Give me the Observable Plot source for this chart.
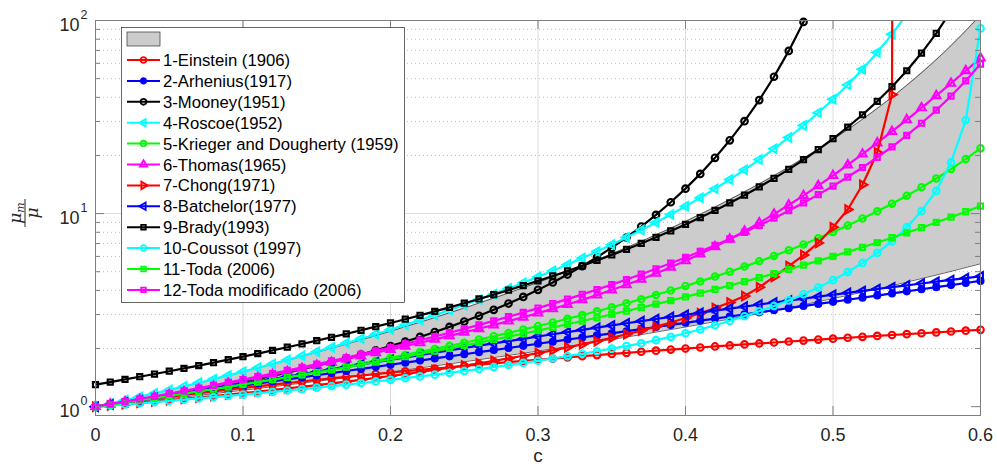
<!DOCTYPE html>
<html><head><meta charset="utf-8">
<script src="https://cdn.jsdelivr.net/npm/d3@7"></script>
<script src="https://cdn.jsdelivr.net/npm/@observablehq/plot@0.6"></script>
<style>
body{margin:0;background:#fff}
svg{display:block}
</style>
</head><body><div id="chart"></div>
<script>
// ---------------- data ----------------
const cGrid = [0,0.01,0.02,0.03,0.04,0.05,0.06,0.07,0.08,0.09,0.1,0.11,0.12,0.13,0.14,0.15,0.16,0.17,0.18,0.19,0.2,0.21,0.22,0.23,0.24,0.25,0.26,0.27,0.28,0.29,0.3,0.31,0.32,0.33,0.34,0.35,0.36,0.37,0.38,0.39,0.4,0.41,0.42,0.43,0.44,0.45,0.46,0.47,0.48,0.49,0.5,0.51,0.52,0.53,0.54,0.55,0.56,0.57,0.58,0.59,0.6];

const einstein = [1,1.025,1.05,1.075,1.1,1.125,1.15,1.175,1.2,1.225,1.25,1.275,1.3,1.325,1.35,1.375,1.4,1.425,1.45,1.475,1.5,1.525,1.55,1.575,1.6,1.625,1.65,1.675,1.7,1.725,1.75,1.775,1.8,1.825,1.85,1.875,1.9,1.925,1.95,1.975,2,2.025,2.05,2.075,2.1,2.125,2.15,2.175,2.2,2.225,2.25,2.275,2.3,2.325,2.35,2.375,2.4,2.425,2.45,2.475,2.5];
const arrhenius = [1,1.0253,1.0513,1.0779,1.1052,1.1331,1.1618,1.1912,1.2214,1.2523,1.284,1.3165,1.3499,1.384,1.4191,1.455,1.4918,1.5296,1.5683,1.608,1.6487,1.6905,1.7333,1.7771,1.8221,1.8682,1.9155,1.964,2.0138,2.0647,2.117,2.1706,2.2255,2.2819,2.3396,2.3989,2.4596,2.5219,2.5857,2.6512,2.7183,2.7871,2.8577,2.93,3.0042,3.0802,3.1582,3.2382,3.3201,3.4042,3.4903,3.5787,3.6693,3.7622,3.8574,3.9551,4.0552,4.1579,4.2631,4.371,4.4817];
const mooney = [1,1.0257,1.0529,1.0818,1.1124,1.145,1.1797,1.2167,1.2562,1.2984,1.3437,1.3924,1.4447,1.5012,1.5622,1.6282,1.7,1.778,1.8633,1.9566,2.059,2.1718,2.2965,2.4348,2.5888,2.7611,2.9545,3.1727,3.4203,3.7026,4.0264,4.4002,4.8345,5.343,5.9434,6.6584,7.5178,8.5623,9.8458,11.444,13.464,16.054,19.441,23.954,30.11,38.715,51.121,69.609,98.327,144.9];
const roscoe = [1,1.0395,1.0813,1.1254,1.1721,1.2215,1.274,1.3296,1.3887,1.4515,1.5184,1.5896,1.6657,1.7469,1.8338,1.9269,2.0267,2.1339,2.2493,2.3735,2.5075,2.6524,2.8094,2.9796,3.1646,3.3661,3.5861,3.8267,4.0905,4.3806,4.7002,5.0535,5.445,5.8804,6.3662,6.91,7.5212,8.211,8.9924,9.8823,10.9,12.071,13.427,15.005,16.855,19.041,21.646,24.782,28.588,33.263,39.09,46.45,55.902,68.283,84.877,107.73];
const kriegerDougherty = [1,1.0255,1.052,1.0796,1.1083,1.1382,1.1693,1.2018,1.2357,1.2711,1.3081,1.3468,1.3873,1.4296,1.474,1.5206,1.5694,1.6207,1.6747,1.7314,1.7912,1.8542,1.9207,1.991,2.0653,2.1439,2.2273,2.3158,2.4098,2.5098,2.6163,2.73,2.8515,2.9815,3.1208,3.2705,3.4315,3.605,3.7925,3.9954,4.2156,4.4549,4.7158,5.001,5.3137,5.6577,6.0371,6.4572,6.9243,7.4453,8.0293,8.687,9.4318,10.28,11.251,12.371,13.672,15.197,17.0,19.156,21.763];
const thomas = [1.0027,1.0292,1.0578,1.0885,1.1214,1.1564,1.1936,1.233,1.2746,1.3186,1.3649,1.4136,1.4647,1.5185,1.5749,1.6341,1.6962,1.7613,1.8298,1.9018,1.9775,2.0574,2.1417,2.2309,2.3256,2.4263,2.5338,2.649,2.7729,2.9066,3.0516,3.2097,3.3826,3.5729,3.7833,4.0169,4.2777,4.5703,4.8999,5.2729,5.6967,6.1803,6.734,7.3701,8.1032,8.9503,9.9318,11.072,12.398,13.943,15.748,17.858,20.328,23.223,26.62,30.608,35.294,40.804,47.285,54.914,63.896];
const chong = [1,1.0149,1.0303,1.0463,1.0628,1.0799,1.0977,1.1161,1.1353,1.1552,1.1759,1.1974,1.2199,1.2433,1.2678,1.2933,1.3201,1.3482,1.3776,1.4085,1.4411,1.4753,1.5115,1.5497,1.5901,1.633,1.6786,1.7271,1.779,1.8345,1.894,1.9581,2.0273,2.1022,2.1837,2.2726,2.3701,2.4775,2.5966,2.7293,2.8784,3.0471,3.2399,3.4625,3.74,4.15,4.7,5.35,6.1,7.05,8.5,10.5,14.1,20.7,41.3,1e30];
const batchelor = [1,1.0256,1.0525,1.0806,1.1099,1.1405,1.1723,1.2054,1.2397,1.2752,1.312,1.35,1.3893,1.4298,1.4715,1.5145,1.5587,1.6042,1.6509,1.6988,1.748,1.7984,1.8501,1.903,1.9571,2.0125,2.0691,2.127,2.1861,2.2464,2.308,2.3708,2.4349,2.5002,2.5667,2.6345,2.7035,2.7738,2.8453,2.918,2.992,3.0672,3.1437,3.2214,3.3003,3.3805,3.4619,3.5446,3.6285,3.7136,3.8,3.8876,3.9765,4.0666,4.1579,4.2505,4.3443,4.4394,4.5357,4.6332,4.732];
const brady = [1.3,1.3409,1.3838,1.4289,1.4761,1.5257,1.5779,1.6327,1.6905,1.7514,1.8157,1.8836,1.9553,2.0313,2.1117,2.197,2.2876,2.3839,2.4864,2.5957,2.7124,2.837,2.9705,3.1137,3.2674,3.4328,3.6111,3.8037,4.0121,4.238,4.4837,4.7513,5.0436,5.3638,5.7154,6.1028,6.5309,7.0057,7.5341,8.125,8.788,9.5355,10.383,11.348,12.455,13.731,15.215,16.952,19.005,21.455,24.412,28.023,32.5,38.142,45.393,54.925,67.809,85.82,112.09];
const coussot = [1,1.0134,1.0271,1.0414,1.056,1.0712,1.0868,1.103,1.1197,1.137,1.1549,1.1735,1.1928,1.2128,1.2336,1.2552,1.2777,1.3011,1.3255,1.351,1.3776,1.4054,1.4345,1.4651,1.4971,1.5308,1.5663,1.6037,1.6431,1.6849,1.7291,1.776,1.8259,1.8791,1.936,1.997,2.06,2.13,2.21,2.3,2.4,2.51,2.64,2.78,2.94,3.12,3.32,3.55,3.82,4.14,4.52,4.98,5.55,6.26,7.2,8.5,10.3,13.1,18.4,30.5,91];
const toda = [1,1.0255,1.0519,1.0793,1.1077,1.1372,1.1679,1.1997,1.2328,1.2673,1.3032,1.3405,1.3794,1.4199,1.4621,1.5062,1.5522,1.6003,1.6504,1.7029,1.7578,1.8153,1.8755,1.9385,2.0047,2.0741,2.147,2.2236,2.3041,2.3889,2.4781,2.5722,2.6715,2.7763,2.887,3.0041,3.1281,3.2594,3.3987,3.5466,3.7037,3.8709,4.049,4.2388,4.4415,4.6582,4.8899,5.1385,5.4051,5.6916,6.0,6.3324,6.6913,7.0794,7.4998,7.9561,8.4523,8.9929,9.5832,10.229,10.938];
const todaModificado = [1,1.0307,1.0628,1.0964,1.1315,1.1684,1.2071,1.2476,1.2903,1.3351,1.3823,1.4319,1.4842,1.5395,1.5978,1.6594,1.7246,1.7936,1.8668,1.9445,2.027,2.1149,2.2085,2.3083,2.415,2.529,2.6513,2.7824,2.9233,3.0751,3.2387,3.4156,3.6072,3.8149,4.0409,4.2871,4.5562,4.851,5.1749,5.5315,5.9258,6.363,6.8497,7.3933,8.003,8.6903,9.468,10.354,11.366,12.532,13.885,15.464,17.324,19.533,22.185,25.404,29.366,34.309,40.59,48.72,59.52];

// gray band (range of models)
const bandC = [0,0.025,0.05,0.075,0.1,0.125,0.15,0.175,0.2,0.225,0.25,0.275,0.3,0.325,0.35,0.375,0.4,0.425,0.45,0.475,0.5,0.525,0.55,0.575,0.6];
const bandLow = [1,1.0482,1.1001,1.156,1.2165,1.2819,1.3529,1.4302,1.5144,1.6066,1.7076,1.8187,1.9414,2.0773,2.2284,2.397,2.5861,2.7991,3.0404,3.3152,3.6301,3.9935,4.4161,4.9115,5.4975];
const bandHigh = [1,1.1033,1.2215,1.3574,1.5144,1.6968,1.91,2.1609,2.4582,2.8133,3.2408,3.7608,4.3993,5.1921,6.1905,7.4642,9.1176,11.304,14.258,18.349,24.191,32.836,46.201,68.053,106.42];

const xMajor = [0,0.1,0.2,0.3,0.4,0.5,0.6];
const yMajor = [1,10,100];
const yExponent = ["0","1","2"];
const yMinor = [2,3,4,5,6,7,8,9,20,30,40,50,60,70,80,90];

// ---------------- symbols ----------------
function tri(angle){
  const a = angle*Math.PI/180;
  return {draw(ctx,size){
    const s = Math.sqrt(4*size/Math.sqrt(3)), h = s*Math.sqrt(3)/2;
    const p = [[0,-2*h/3],[s/2,h/3],[-s/2,h/3]].map(([x,y])=>[x*Math.cos(a)-y*Math.sin(a), x*Math.sin(a)+y*Math.cos(a)]);
    ctx.moveTo(p[0][0],p[0][1]); ctx.lineTo(p[1][0],p[1][1]); ctx.lineTo(p[2][0],p[2][1]); ctx.closePath();
  }};
}
const symCircle = d3.symbolCircle, symSquare = d3.symbolSquare;

const seriesList = [
  {label:"1-Einstein (1906)", values:einstein, color:"#ff0000", symbol:symCircle, r:3.3, fill:"none"},
  {label:"2-Arhenius(1917)", values:arrhenius, color:"#0000ff", symbol:symCircle, r:3.0, fill:"#0000ff"},
  {label:"3-Mooney(1951)", values:mooney, color:"#000000", symbol:symCircle, r:3.3, fill:"none"},
  {label:"4-Roscoe(1952)", values:roscoe, color:"#00ffff", symbol:tri(-90), r:3.1, fill:"none"},
  {label:"5-Krieger and Dougherty (1959)", values:kriegerDougherty, color:"#00ff00", symbol:symCircle, r:3.2, fill:"none"},
  {label:"6-Thomas(1965)", values:thomas, color:"#ff00ff", symbol:tri(0), r:3.1, fill:"none"},
  {label:"7-Chong(1971)", values:chong, color:"#ff0000", symbol:tri(90), r:3.1, fill:"none"},
  {label:"8-Batchelor(1977)", values:batchelor, color:"#0000ff", symbol:tri(-90), r:3.1, fill:"none"},
  {label:"9-Brady(1993)", values:brady, color:"#000000", symbol:symSquare, r:2.9, fill:"none"},
  {label:"10-Coussot (1997)", values:coussot, color:"#00ffff", symbol:symCircle, r:3.3, fill:"none"},
  {label:"11-Toda (2006)", values:toda, color:"#00ff00", symbol:symSquare, r:2.9, fill:"none"},
  {label:"12-Toda modificado (2006)", values:todaModificado, color:"#ff00ff", symbol:symSquare, r:2.9, fill:"none"}
];

// ---------------- layout ----------------
const W = 997, H = 470, mL = 95, mR = 17, mT = 20, mB = 55;
const plotW = W - mL - mR, plotH = H - mT - mB;
const axisColor = "#7f7f7f";

const bandRows = bandC.map((c,i)=>({c, lo:bandLow[i], hi:bandHigh[i]}));

const seriesMarks = seriesList.flatMap(s => {
  const rows = s.values.map((v,i)=>({c:cGrid[i], v}));
  return [
    Plot.line(rows, {x:"c", y:"v", stroke:s.color, strokeWidth:2.2, clip:true}),
    Plot.dot(rows.filter(d=>d.v>=0.9 && d.v<=100), {x:"c", y:"v", symbol:s.symbol, r:s.r, stroke:s.color, fill:s.fill, strokeWidth:2.1})
  ];
});

const chart = Plot.plot({
  width: W, height: H,
  marginLeft: mL, marginRight: mR, marginTop: mT, marginBottom: mB,
  style: {fontFamily: "'Liberation Sans', Arial, Helvetica, sans-serif", color: "#262626", background: "#fff", overflow: "visible"},
  x: {domain: [0, 0.6], label: null},
  y: {type: "log", domain: [0.9, 100], label: null, axis: null},
  marks: [
    Plot.gridX(xMajor.slice(1,-1), {stroke:"#dcdcdc", strokeOpacity:1}),
    Plot.gridY(yMinor, {stroke:"#bdbdbd", strokeOpacity:1, strokeDasharray:"1,3"}),
    Plot.gridY([10], {stroke:"#dcdcdc", strokeOpacity:1}),
    Plot.areaY(bandRows, {x:"c", y1:"lo", y2:"hi", fill:"#cccccc", curve:"monotone-x", clip:true}),
    Plot.line(bandRows, {x:"c", y:"lo", stroke:"#222", strokeWidth:0.7, curve:"monotone-x", clip:true}),
    Plot.line(bandRows, {x:"c", y:"hi", stroke:"#222", strokeWidth:0.7, curve:"monotone-x", clip:true}),
    ...seriesMarks,
    // ticks (inward)
    Plot.tickY(yMajor, {y:d=>d, insetRight: plotW-9, stroke:axisColor}),
    Plot.tickY(yMajor, {y:d=>d, insetLeft: plotW-9, stroke:axisColor}),
    Plot.tickY(yMinor, {y:d=>d, insetRight: plotW-5, stroke:axisColor}),
    Plot.tickY(yMinor, {y:d=>d, insetLeft: plotW-5, stroke:axisColor}),
    Plot.tickX(xMajor, {x:d=>d, insetTop: plotH-9, stroke:axisColor}),
    Plot.tickX(xMajor, {x:d=>d, insetBottom: plotH-9, stroke:axisColor}),
    Plot.frame({stroke: axisColor}),
    Plot.axisX(xMajor, {tickSize:0, tickPadding:13, fontSize:18, tickFormat:d=> d===0 ? "0" : String(d), label:null}),
    Plot.text(yMajor, {y:d=>d, text:()=> "10", frameAnchor:"left", textAnchor:"end", dx:-16, dy:5, fontSize:18, fill:"#262626"}),
    Plot.text(yMajor, {y:d=>d, text:(d,i)=> yExponent[i], frameAnchor:"left", textAnchor:"start", dx:-15, dy:-6, fontSize:12.5, fill:"#262626"}),
    Plot.text(["c"], {frameAnchor:"bottom", text:d=>d, dy:46, fontSize:19, fill:"#262626"})
  ]
});
document.getElementById("chart").appendChild(chart);

// ---------------- y label (fraction) ----------------
const svg = d3.select(chart);
const yl = svg.append("g").attr("transform","translate(25,213) rotate(-90)")
  .attr("font-family","'DejaVu Serif','Liberation Serif',serif").attr("fill","#262626");
const num = yl.append("text").attr("x",0).attr("y",-4).attr("text-anchor","middle").attr("font-size",17).attr("font-style","italic");
num.append("tspan").text("μ");
num.append("tspan").attr("font-size",11).attr("dy",3).text("m");
yl.append("line").attr("x1",-14).attr("x2",14).attr("y1",0).attr("y2",0).attr("stroke","#262626").attr("stroke-width",1);
yl.append("text").attr("x",0).attr("y",13).attr("text-anchor","middle").attr("font-size",17).attr("font-style","italic").text("μ");

// ---------------- legend ----------------
const lg = svg.append("g").attr("font-family","'Liberation Sans', Arial, Helvetica, sans-serif").attr("text-anchor","start");
lg.append("rect").attr("x",121.5).attr("y",27.5).attr("width",283).attr("height",275)
  .attr("fill","#fff").attr("stroke","#262626").attr("stroke-width",0.7);
lg.append("rect").attr("x",127).attr("y",32).attr("width",33).attr("height",14)
  .attr("fill","#cccccc").attr("stroke","#333").attr("stroke-width",0.7);
seriesList.forEach((s,i)=>{
  const yy = 60 + i*20.9;
  lg.append("line").attr("x1",127).attr("x2",160).attr("y1",yy).attr("y2",yy).attr("stroke",s.color).attr("stroke-width",2);
  lg.append("path").attr("d", d3.symbol().type(s.symbol).size(Math.PI*s.r*s.r*0.8)())
    .attr("transform",`translate(143.5,${yy})`).attr("fill",s.fill).attr("stroke",s.color).attr("stroke-width",1.8);
  lg.append("text").attr("x",163).attr("y",yy).attr("dy","0.36em").attr("text-anchor","start").attr("font-size",16.7).attr("fill","#000").text(s.label);
});
</script>
</body></html>
